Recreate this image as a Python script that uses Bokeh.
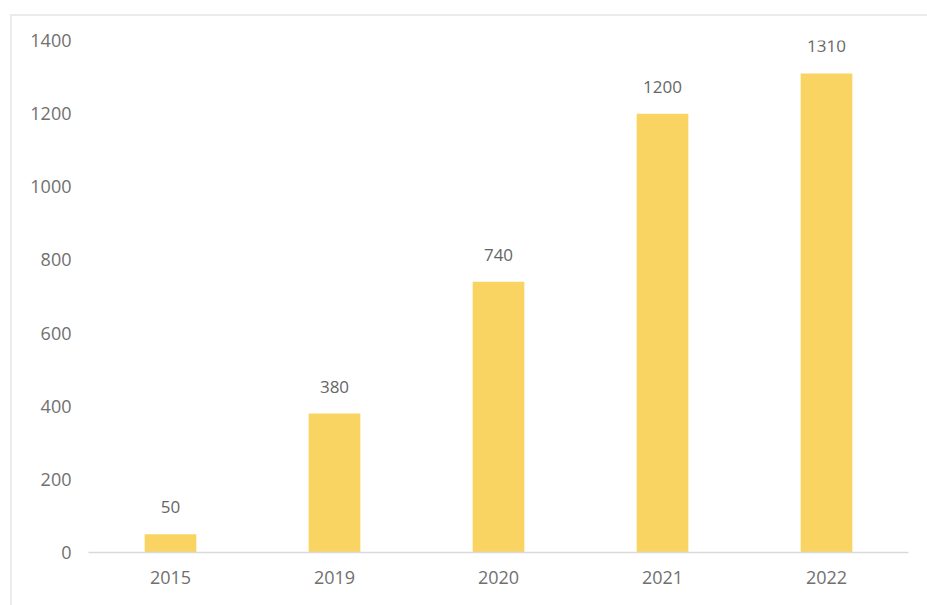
from bokeh.plotting import figure
from bokeh.models import ColumnDataSource, Range1d, FixedTicker, LabelSet
from bokeh.core.properties import value
from bokeh.embed import file_html
from bokeh.resources import INLINE

years = ["2015", "2019", "2020", "2021", "2022"]
values = [50, 380, 740, 1200, 1310]
y_ticks = [0, 200, 400, 600, 800, 1000, 1200, 1400]

src = ColumnDataSource(dict(x=years, y=values, lab=[str(v) for v in values]))

p = figure(x_range=years, y_range=Range1d(0, 1400), width=915, height=592,
           output_backend="svg", toolbar_location=None,
           min_border_left=76, min_border_right=23, min_border_top=24, min_border_bottom=60)
p.margin = (14, 0, 0, 10)
p.styles = {"border": "2px solid #ebebeb", "box-sizing": "content-box"}
p.outline_line_color = None
p.grid.grid_line_color = None
p.background_fill_color = "#ffffff"
p.border_fill_color = "#ffffff"

p.vbar(x="x", top="y", width=0.315, source=src, color="#F9D462", line_color=None)

labels = LabelSet(x="x", y="y", text="lab", source=src, text_align="center",
                  text_baseline="bottom", y_offset=21, text_color="#666666",
                  text_font_size="17px", text_font=value("Open Sans"))
p.add_layout(labels)

for ax in (p.xaxis, p.yaxis):
    ax.major_tick_line_color = None
    ax.minor_tick_line_color = None
    ax.major_label_text_color = "#707070"
    ax.major_label_text_font_size = "18px"
    ax.major_label_text_font = "Open Sans"

p.yaxis.ticker = FixedTicker(ticks=y_ticks)
p.yaxis.axis_line_color = None
p.yaxis.major_label_standoff = 11
p.xaxis.axis_line_color = "#d9d9d9"
p.xaxis.axis_line_width = 1.5
p.xaxis.major_label_standoff = 12

open("out.html", "w").write(file_html(p, INLINE))
